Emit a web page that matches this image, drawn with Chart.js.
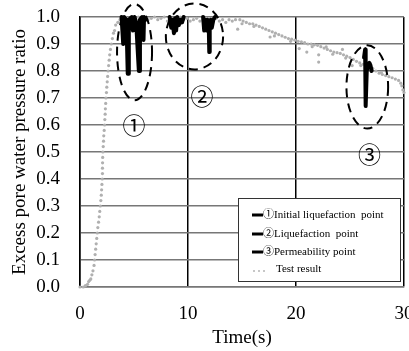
<!DOCTYPE html>
<html>
<head>
<meta charset="utf-8">
<script src="https://cdn.jsdelivr.net/npm/chart.js@4.4.0/dist/chart.umd.min.js"></script>
<style>
html, body { margin: 0; padding: 0; background: #fff; }
</style>
</head>
<body>
<canvas id="pwpChart" width="409" height="351"></canvas>
<script>
var xTickLabels = ['0', '10', '20', '30'];
var yTickLabels = ['0.0', '0.1', '0.2', '0.3', '0.4', '0.5', '0.6', '0.7', '0.8', '0.9', '1.0'];
var seriesLabels = ['\u2460Initial liquefaction  point', '\u2461Liquefaction  point', '\u2462Permeability point', 'Test result'];
var zoneLabels = ['\u2460', '\u2461', '\u2462'];

// test result (gray dots)
var testTime = [0.0, 0.3, 0.5, 0.7, 0.8, 0.9, 1.0, 1.1, 1.2, 1.3, 1.35, 1.4, 1.45, 1.5, 1.55, 1.6, 1.65, 1.72, 1.78, 1.83,
    1.88, 1.93, 1.97, 2.0, 2.03, 2.06, 2.08, 2.08, 2.09, 2.1, 2.12, 2.15, 2.18, 2.2, 2.24, 2.28, 2.3, 2.33, 2.35, 2.38,
    2.4, 2.45, 2.48, 2.52, 2.56, 2.6, 2.65, 2.7, 2.75, 2.82, 2.9, 3.0, 3.1, 3.2, 3.3, 3.5, 3.7, 3.9,
    4.2, 4.5, 4.8, 5.1, 5.4, 5.7, 6.0, 6.3, 6.6, 6.9, 7.2, 7.5, 7.8, 8.1, 8.4, 8.7, 9.0, 9.3, 9.6, 9.9,
    10.2, 10.5, 10.8, 11.1, 11.4, 11.7, 12.0, 12.3, 12.6, 12.9, 13.2, 13.5, 13.8, 14.1, 14.4, 14.6,
    14.8, 15.0, 15.1, 15.4, 15.7, 16.0, 16.1, 16.3, 16.6, 16.9, 17.2, 17.5, 17.6, 17.8, 18.0, 18.1, 18.4, 18.7,
    19.0, 19.3, 19.5, 19.6, 19.9, 20.2, 20.3, 20.5, 20.8, 21.0, 21.1, 21.4, 21.5, 21.7, 22.0, 22.1, 22.1, 22.3,
    22.6, 22.8, 22.9, 23.2, 23.4, 23.5, 23.8, 24.1, 24.3, 24.4, 24.6, 24.7, 25.0, 25.2, 25.3, 25.6, 25.9, 26.0,
    26.2, 26.5, 26.8, 27.1, 27.4, 27.7, 27.9, 28.0, 28.3, 28.6, 28.9, 29.2, 29.5, 29.7, 29.8, 29.9, 30.0];
var testRatio = [0.0, 0.0, 0.005, 0.01, 0.02, 0.025, 0.03, 0.045, 0.06, 0.08, 0.1, 0.12, 0.14, 0.16, 0.18, 0.2, 0.22, 0.24, 0.26, 0.28,
    0.3, 0.32, 0.34, 0.36, 0.38, 0.4, 0.42, 0.44, 0.46, 0.48, 0.5, 0.52, 0.54, 0.56, 0.58, 0.6, 0.62, 0.64, 0.66, 0.68,
    0.7, 0.72, 0.74, 0.76, 0.78, 0.8, 0.82, 0.84, 0.86, 0.88, 0.9, 0.92, 0.94, 0.95, 0.97, 0.98, 0.99, 1.0,
    1.0, 0.995, 1.0, 0.99, 1.0, 0.995, 1.0, 0.99, 0.995, 1.0, 0.99, 0.995, 1.0, 0.985, 0.99, 0.995, 0.985, 1.0, 0.99, 0.995,
    0.985, 0.99, 0.995, 0.985, 0.99, 0.995, 0.98, 0.99, 0.995, 0.985, 0.99, 0.98, 0.99, 0.985, 0.99, 0.955,
    0.99, 0.975, 0.985, 0.98, 0.975, 0.975, 0.965, 0.97, 0.965, 0.96, 0.955, 0.95, 0.926, 0.945, 0.93, 0.94, 0.935, 0.93,
    0.925, 0.92, 0.91, 0.918, 0.914, 0.91, 0.883, 0.908, 0.905, 0.87, 0.9, 0.9, 0.89, 0.897, 0.895, 0.86, 0.833, 0.89,
    0.885, 0.889, 0.88, 0.875, 0.862, 0.87, 0.868, 0.865, 0.88, 0.86, 0.848, 0.855, 0.85, 0.82, 0.843, 0.836, 0.83, 0.82,
    0.825, 0.82, 0.815, 0.81, 0.8, 0.792, 0.795, 0.787, 0.783, 0.779, 0.775, 0.77, 0.765, 0.755, 0.745, 0.73, 0.72];

// ① initial liquefaction point
var initTime = [3.85, 4.0, 4.08, 4.3, 4.42, 4.47, 4.52, 4.8, 4.9, 5.05, 5.2, 5.45, 5.5, 5.55, 5.75, 5.88, 5.93, 6.1];
var initRatio = [1.0, 0.90, 1.0, 0.99, 0.79, 0.79, 0.99, 1.0, 0.95, 1.0, 0.98, 0.80, 0.80, 0.99, 1.0, 0.915, 1.0, 0.99];

// ② liquefaction point (two bursts, null = gap)
var liqTime = [8.3, 8.45, 8.55, 8.7, 8.8, 8.9, 9.0, 9.15, 9.3, 9.45, 9.6, 10.5,
    11.4, 11.5, 11.6, 11.7, 11.8, 11.93, 11.97, 12.01, 12.1, 12.2, 12.35, 12.5];
var liqRatio = [1.0, 0.96, 0.99, 0.94, 0.995, 0.95, 1.0, 0.97, 0.99, 0.98, 1.0, null,
    1.0, 0.95, 0.99, 0.95, 0.99, 0.95, 0.87, 0.95, 0.99, 0.96, 0.99, 1.0];

// ③ permeability point
var permTime = [26.3, 26.4, 26.45, 26.55, 26.65, 26.8, 26.9, 27.0];
var permRatio = [0.85, 0.88, 0.67, 0.80, 0.82, 0.83, 0.82, 0.80];

function pairs(ts, vs) {
    return ts.map(function (t, i) { return { x: t, y: vs[i] }; });
}

function blackLine(label, ts, vs) {
    return {
        label: label,
        data: pairs(ts, vs),
        borderColor: '#000',
        backgroundColor: '#000',
        borderWidth: 4,
        borderJoinStyle: 'round',
        borderCapStyle: 'round',
        pointRadius: 0,
        tension: 0,
        spanGaps: false,
        clip: false
    };
}

var markerPlugin = {
    id: 'markers',
    afterDatasetsDraw: function (chart) {
        var ctx = chart.ctx, xs = chart.scales.x, ys = chart.scales.y;
        var rings = [
            { t: 5.05, v: 0.87, dt: 1.62, dv: 0.178, lt: 5.0, lv: 0.6 },
            { t: 10.6, v: 0.928, dt: 2.65, dv: 0.122, lt: 11.3, lv: 0.706 },
            { t: 26.6, v: 0.741, dt: 1.93, dv: 0.154, lt: 26.8, lv: 0.49 }
        ];
        ctx.save();
        ctx.strokeStyle = '#000';
        ctx.lineWidth = 2;
        ctx.setLineDash([9, 6]);
        rings.forEach(function (r) {
            var cx = xs.getPixelForValue(r.t), cy = ys.getPixelForValue(r.v);
            var rx = xs.getPixelForValue(r.t + r.dt) - cx;
            var ry = cy - ys.getPixelForValue(r.v + r.dv);
            ctx.beginPath();
            ctx.ellipse(cx, cy, rx, ry, 0, 0, Math.PI * 2);
            ctx.stroke();
        });
        ctx.setLineDash([]);
        ctx.fillStyle = '#000';
        ctx.font = "23px 'Noto Sans CJK JP', 'DejaVu Sans'";
        ctx.textAlign = 'center';
        ctx.textBaseline = 'middle';
        rings.forEach(function (r, i) {
            ctx.fillText(zoneLabels[i], xs.getPixelForValue(r.lt), ys.getPixelForValue(r.lv));
        });
        ctx.restore();
    },
    afterDraw: function (chart) {
        var ctx = chart.ctx, area = chart.chartArea;
        var left = area.right - 166, top = area.bottom - 89;
        ctx.save();
        ctx.fillStyle = '#fff';
        ctx.fillRect(left, top, 162, 83);
        ctx.strokeStyle = '#333';
        ctx.lineWidth = 1;
        ctx.strokeRect(left + 0.5, top + 0.5, 162, 83);
        ctx.font = "11px 'Liberation Serif', 'Noto Sans CJK JP'";
        ctx.textBaseline = 'middle';
        ctx.textAlign = 'left';
        var rows = [17, 36, 54, 71];
        chart.data.datasets.forEach(function (ds, i) {
            var y = top + rows[i];
            if (i < 3) {
                ctx.strokeStyle = '#000';
                ctx.lineWidth = 3;
                ctx.beginPath();
                ctx.moveTo(left + 14, y);
                ctx.lineTo(left + 25, y);
                ctx.stroke();
                ctx.fillStyle = '#000';
                ctx.fillText(ds.label, left + 25, y);
            } else {
                ctx.fillStyle = '#b5b5b5';
                [16, 21, 26].forEach(function (dx) {
                    ctx.beginPath();
                    ctx.arc(left + dx, y + 2, 1, 0, Math.PI * 2);
                    ctx.fill();
                });
                ctx.fillStyle = '#000';
                ctx.fillText(ds.label, left + 38, y);
            }
        });
        ctx.restore();
    }
};

function pwpChart() {
    Chart.defaults.font.family = "'Liberation Serif', 'Times New Roman', serif";
    Chart.defaults.color = '#000';

    var ctx = document.getElementById('pwpChart').getContext('2d');

    var myChart = new Chart(ctx, {
        type: 'line',
        data: {
            datasets: [
                blackLine(seriesLabels[0], initTime, initRatio),
                blackLine(seriesLabels[1], liqTime, liqRatio),
                blackLine(seriesLabels[2], permTime, permRatio),
                {
                    label: seriesLabels[3],
                    data: pairs(testTime, testRatio),
                    showLine: false,
                    pointRadius: 1.6,
                    pointBorderWidth: 0,
                    pointBackgroundColor: '#b0b0b0',
                    borderColor: '#b0b0b0',
                    clip: false
                }
            ]
        },
        options: {
            responsive: false,
            animation: false,
            layout: { padding: { top: 17, right: 5, left: 0, bottom: 0 } },
            plugins: {
                legend: { display: false },
                tooltip: { enabled: false }
            },
            scales: {
                x: {
                    type: 'linear',
                    min: 0,
                    max: 30,
                    ticks: {
                        stepSize: 10,
                        padding: 16,
                        maxRotation: 0,
                        font: { size: 19 },
                        callback: function (value, index) { return xTickLabels[index]; }
                    },
                    grid: { color: '#000', lineWidth: 1.5, drawTicks: false },
                    border: { color: '#777', width: 1.5 },
                    title: { display: true, text: 'Time(s)', font: { size: 19 }, padding: { top: 0, bottom: 2 } },
                    afterFit: function (scale) {
                        scale.height = 64;
                        scale.paddingLeft = 0;
                        scale.paddingRight = 0;
                    }
                },
                y: {
                    min: 0,
                    max: 1,
                    ticks: {
                        stepSize: 0.1,
                        padding: 20,
                        font: { size: 19 },
                        callback: function (value, index) { return yTickLabels[index]; }
                    },
                    grid: { color: '#777', lineWidth: 1.5, drawTicks: false },
                    border: { color: '#000', width: 1.5 },
                    title: { display: true, text: 'Excess pore water pressure ratio', font: { size: 19 }, padding: { top: 9, bottom: 0 } },
                    afterFit: function (scale) {
                        scale.width = 80;
                        scale.paddingTop = 0;
                        scale.paddingBottom = 0;
                    }
                }
            }
        },
        plugins: [markerPlugin]
    });
}

pwpChart();
</script>
</body>
</html>
